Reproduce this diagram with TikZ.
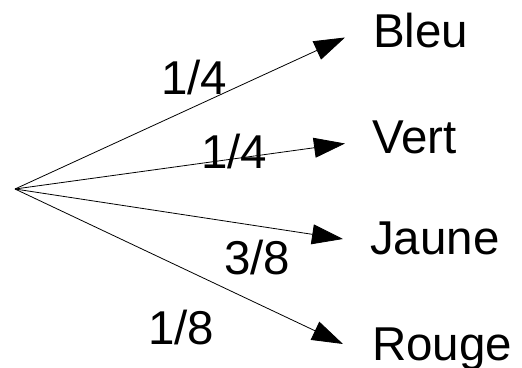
\documentclass[tikz,border=0pt]{standalone}
\usepackage{fontspec}
\setmainfont{Liberation Sans}
\usetikzlibrary{arrows.meta}
\begin{document}
\begin{tikzpicture}[x=1pt,y=-1pt,
  lbl/.style={anchor=base west,inner sep=0pt,font=\fontsize{47.5}{52}\selectfont},
  branch/.style={line width=0.8pt,-{Triangle[length=31pt,width=20pt]}}]
\useasboundingbox (0,0) rectangle (522,367);
\coordinate (o) at (15,189);
\coordinate (tb) at (345,37.5);
\coordinate (tv) at (345,143.5);
\coordinate (tj) at (343,239);
\coordinate (tr) at (343,344);
\draw[branch] (o) -- (tb);
\draw[branch] (o) -- (tv);
\draw[branch] (o) -- (tj);
\draw[branch] (o) -- (tr);
\node[lbl] (bleu) at (373,47) {Bleu};
\node[lbl] (vert) at (372,153) {Vert};
\node[lbl] (jaune) at (370,254) {Jaune};
\node[lbl] (rouge) at (372,360) {Rouge};
\node[lbl] (pb) at (161,94) {1/4};
\node[lbl] (pv) at (201,168) {1/4};
\node[lbl] (pj) at (224,274) {3/8};
\node[lbl] (pr) at (148,344) {1/8};
\end{tikzpicture}
\end{document}
